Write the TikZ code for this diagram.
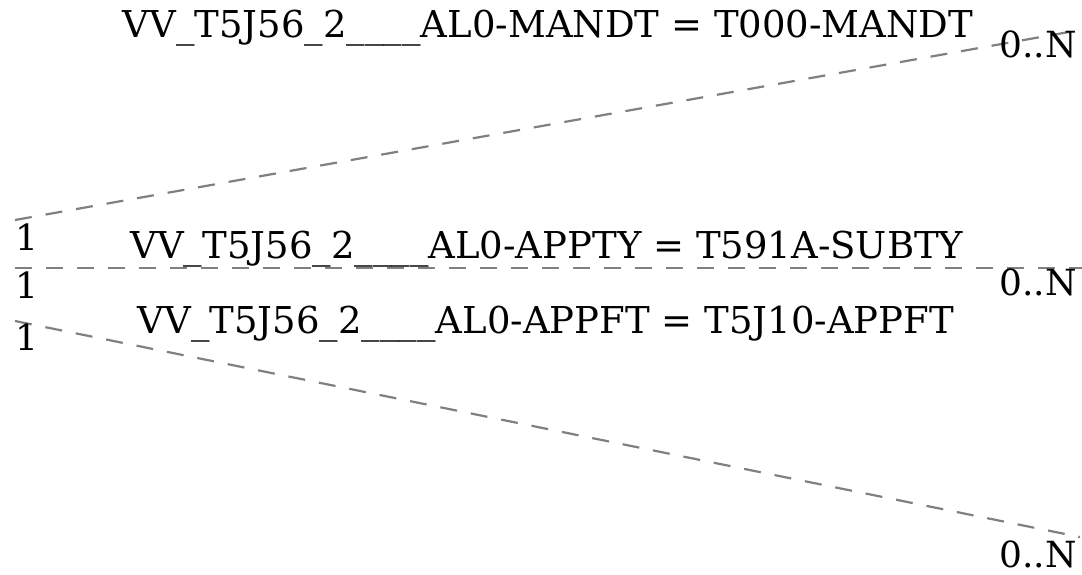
\documentclass[tikz,border=0pt]{standalone}
\usepackage{fontspec}
\setmainfont{DejaVu Serif}
\usepackage{tikz}

\tikzset{
  link/.style={draw=gray, line width=2.2pt, dash pattern=on 17pt off 14pt},
  card/.style={inner sep=0pt, anchor=base west, font=\fontsize{36}{40}\selectfont},
  cond/.style={inner sep=0pt, anchor=base, font=\fontsize{37}{42}\selectfont},
}

\begin{document}
\begin{tikzpicture}[x=1pt, y=-1pt]
\useasboundingbox (0,0) rectangle (1082,574);

% end points of the three joins
\coordinate (a1) at (15,220);
\coordinate (b1) at (1080,30);
\coordinate (a2) at (15,268);
\coordinate (b2) at (1082,268);
\coordinate (a3) at (15,321);
\coordinate (b3) at (1080,537);

\draw[link] (a1) -- (b1);
\draw[link] (a2) -- (b2);
\draw[link] (a3) -- (b3);

% join conditions
\node[cond] (c1) at (548,37) {VV\_T5J56\_2\_\_\_\_AL0-MANDT = T000-MANDT};
\node[cond] (c2) at (547,258) {VV\_T5J56\_2\_\_\_\_AL0-APPTY = T591A-SUBTY};
\node[cond] (c3) at (546,333) {VV\_T5J56\_2\_\_\_\_AL0-APPFT = T5J10-APPFT};

% cardinalities
\node[card] (l1) at (15,250) {1};
\node[card] (l2) at (15,298) {1};
\node[card] (l3) at (15,350) {1};
\node[card] (r1) at (999,57) {0..N};
\node[card] (r2) at (999,295) {0..N};
\node[card] (r3) at (999,567) {0..N};
\end{tikzpicture}
\end{document}
